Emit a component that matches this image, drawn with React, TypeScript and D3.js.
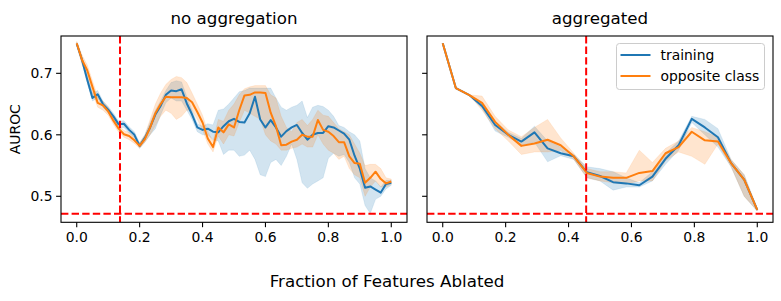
import React from 'react';
import * as d3 from 'd3';

// sample positions (fraction of features ablated)
const fracNoAgg = d3.range(61).map(i => i / 60);
const fracAgg = d3.range(25).map(i => i / 24);

// no aggregation: training
const noAggTrain = [0.748, 0.722, 0.690, 0.660, 0.666, 0.650, 0.641, 0.630, 0.617, 0.618,
	0.608, 0.600, 0.582, 0.595, 0.612, 0.633, 0.647, 0.665, 0.672, 0.671,
	0.674, 0.651, 0.633, 0.612, 0.608, 0.610, 0.605, 0.604, 0.614, 0.622,
	0.626, 0.621, 0.620, 0.635, 0.662, 0.625, 0.612, 0.624, 0.612, 0.597,
	0.606, 0.612, 0.616, 0.603, 0.592, 0.600, 0.603, 0.603, 0.614, 0.612,
	0.607, 0.602, 0.592, 0.566, 0.545, 0.514, 0.516, 0.511, 0.506, 0.520, 0.522];
const noAggTrainLo = [0.745, 0.716, 0.684, 0.655, 0.660, 0.645, 0.636, 0.625, 0.612, 0.612,
	0.603, 0.595, 0.578, 0.588, 0.600, 0.610, 0.632, 0.652, 0.660, 0.655,
	0.655, 0.640, 0.625, 0.605, 0.600, 0.600, 0.592, 0.590, 0.568, 0.575,
	0.575, 0.565, 0.567, 0.575, 0.560, 0.535, 0.532, 0.555, 0.560, 0.550,
	0.565, 0.585, 0.560, 0.522, 0.513, 0.520, 0.525, 0.530, 0.562, 0.570,
	0.565, 0.568, 0.555, 0.530, 0.520, 0.485, 0.472, 0.495, 0.500, 0.512, 0.518];
const noAggTrainHi = [0.751, 0.728, 0.697, 0.668, 0.672, 0.655, 0.646, 0.635, 0.622, 0.623,
	0.613, 0.605, 0.587, 0.600, 0.620, 0.640, 0.655, 0.672, 0.685, 0.688,
	0.686, 0.662, 0.640, 0.618, 0.614, 0.618, 0.616, 0.640, 0.642, 0.650,
	0.660, 0.670, 0.672, 0.676, 0.676, 0.676, 0.676, 0.676, 0.660, 0.645,
	0.640, 0.645, 0.648, 0.655, 0.628, 0.645, 0.648, 0.646, 0.640, 0.630,
	0.615, 0.612, 0.605, 0.600, 0.590, 0.545, 0.530, 0.525, 0.515, 0.526, 0.526];

// no aggregation: opposite class
const noAggOpp = [0.749, 0.722, 0.705, 0.678, 0.652, 0.648, 0.638, 0.623, 0.610, 0.601,
	0.598, 0.591, 0.582, 0.593, 0.612, 0.635, 0.650, 0.662, 0.661, 0.661,
	0.661, 0.660, 0.653, 0.637, 0.620, 0.594, 0.580, 0.612, 0.604, 0.617,
	0.612, 0.640, 0.664, 0.665, 0.669, 0.669, 0.668, 0.636, 0.614, 0.583,
	0.584, 0.589, 0.592, 0.600, 0.597, 0.597, 0.624, 0.608, 0.605, 0.598,
	0.588, 0.588, 0.565, 0.554, 0.553, 0.522, 0.530, 0.540, 0.528, 0.521, 0.524];
const noAggOppLo = [0.746, 0.715, 0.698, 0.668, 0.645, 0.640, 0.632, 0.617, 0.604, 0.596,
	0.592, 0.586, 0.578, 0.588, 0.600, 0.615, 0.630, 0.640, 0.635, 0.625,
	0.630, 0.640, 0.640, 0.625, 0.608, 0.585, 0.572, 0.598, 0.585, 0.600,
	0.598, 0.620, 0.640, 0.635, 0.630, 0.625, 0.600, 0.590, 0.585, 0.575,
	0.575, 0.578, 0.580, 0.585, 0.580, 0.580, 0.600, 0.585, 0.575, 0.570,
	0.560, 0.565, 0.545, 0.535, 0.530, 0.500, 0.515, 0.525, 0.515, 0.515, 0.520];
const noAggOppHi = [0.752, 0.730, 0.714, 0.688, 0.662, 0.655, 0.645, 0.630, 0.616, 0.607,
	0.604, 0.597, 0.587, 0.600, 0.625, 0.650, 0.668, 0.682, 0.690, 0.695,
	0.693, 0.685, 0.668, 0.650, 0.632, 0.605, 0.590, 0.625, 0.622, 0.640,
	0.650, 0.665, 0.675, 0.678, 0.680, 0.680, 0.680, 0.665, 0.660, 0.630,
	0.612, 0.605, 0.620, 0.625, 0.615, 0.625, 0.640, 0.632, 0.630, 0.620,
	0.610, 0.605, 0.600, 0.585, 0.570, 0.550, 0.552, 0.552, 0.545, 0.530, 0.528];

// aggregated: training
const aggTrain = [0.749, 0.676, 0.665, 0.647, 0.616, 0.600, 0.589, 0.604, 0.578, 0.570,
	0.565, 0.539, 0.533, 0.523, 0.521, 0.518, 0.532, 0.561, 0.583, 0.626,
	0.612, 0.596, 0.554, 0.527, 0.478];
const aggTrainLo = [0.749, 0.676, 0.665, 0.643, 0.606, 0.596, 0.583, 0.588, 0.556, 0.566,
	0.560, 0.530, 0.525, 0.510, 0.515, 0.515, 0.525, 0.552, 0.575, 0.620,
	0.600, 0.580, 0.548, 0.500, 0.476];
const aggTrainHi = [0.749, 0.676, 0.665, 0.651, 0.622, 0.604, 0.594, 0.614, 0.590, 0.580,
	0.568, 0.548, 0.545, 0.540, 0.530, 0.522, 0.540, 0.570, 0.590, 0.630,
	0.625, 0.610, 0.560, 0.535, 0.480];

// aggregated: opposite class
const aggOpp = [0.749, 0.676, 0.665, 0.652, 0.621, 0.600, 0.582, 0.586, 0.592, 0.583,
	0.565, 0.538, 0.532, 0.530, 0.530, 0.538, 0.541, 0.570, 0.580, 0.605,
	0.591, 0.589, 0.554, 0.527, 0.478];
const aggOppLo = [0.749, 0.676, 0.665, 0.640, 0.610, 0.590, 0.568, 0.572, 0.572, 0.575,
	0.560, 0.530, 0.525, 0.522, 0.520, 0.525, 0.525, 0.558, 0.572, 0.565,
	0.552, 0.585, 0.548, 0.500, 0.476];
const aggOppHi = [0.749, 0.676, 0.665, 0.663, 0.630, 0.608, 0.597, 0.612, 0.625, 0.595,
	0.570, 0.545, 0.540, 0.540, 0.538, 0.575, 0.555, 0.578, 0.590, 0.612,
	0.605, 0.596, 0.560, 0.535, 0.480];

const xTicks = [0, 0.2, 0.4, 0.6, 0.8, 1.0];
const yTicks = [0.5, 0.6, 0.7];
const baseline = 0.4717;
const cutoffs = [0.1376, 0.456];
const titles = ['no aggregation', 'aggregated'];
const seriesNames = ['training', 'opposite class'];
const colors = ['#1f77b4', '#ff7f0e'];

const FONT = 'DejaVu Sans, sans-serif';
const W = 781;
const H = 301;
const top = 36;
const bottom = 222.3;
const panelW = 346;
const panelLefts = [61, 427];

type Series = { x: number[]; mean: number[]; lo: number[]; hi: number[] };

const panelData: Series[][] = [
	[
		{ x: fracNoAgg, mean: noAggTrain, lo: noAggTrainLo, hi: noAggTrainHi },
		{ x: fracNoAgg, mean: noAggOpp, lo: noAggOppLo, hi: noAggOppHi },
	],
	[
		{ x: fracAgg, mean: aggTrain, lo: aggTrainLo, hi: aggTrainHi },
		{ x: fracAgg, mean: aggOpp, lo: aggOppLo, hi: aggOppHi },
	],
];

const y = d3.scaleLinear().domain([0.4577, 0.7607]).range([bottom, top]);

const Panel: React.FC<{ idx: number }> = ({ idx }) => {
	const left = panelLefts[idx];
	const x = d3.scaleLinear().domain([-0.05, 1.05]).range([left, left + panelW]);
	const series = panelData[idx];
	const clipId = `clip${idx}`;

	const area = (s: Series) => d3.area<number>()
		.x((_, i) => x(s.x[i]))
		.y0((_, i) => y(s.lo[i]))
		.y1((_, i) => y(s.hi[i]))(s.mean);
	const line = (s: Series) => d3.line<number>()
		.x((_, i) => x(s.x[i]))
		.y(d => y(d))(s.mean);

	return (
		<g>
			<defs>
				<clipPath id={clipId}>
					<rect x={left} y={top} width={panelW} height={bottom - top} />
				</clipPath>
			</defs>
			<g clipPath={`url(#${clipId})`}>
				{series.map((s, i) => (
					<path key={'a' + i} d={area(s) || ''} fill={colors[i]} fillOpacity={0.2} stroke={colors[i]} strokeOpacity={0.2} strokeWidth={0.5} />
				))}
				{series.map((s, i) => (
					<path key={'l' + i} d={line(s) || ''} fill="none" stroke={colors[i]} strokeWidth={2} strokeLinejoin="round" />
				))}
				<line x1={x(cutoffs[idx])} x2={x(cutoffs[idx])} y1={top} y2={bottom} stroke="#ff0000" strokeWidth={2} strokeDasharray="7.4,3.2" />
				<line x1={left} x2={left + panelW} y1={y(baseline)} y2={y(baseline)} stroke="#ff0000" strokeWidth={2} strokeDasharray="7.4,3.2" />
			</g>
			<rect x={left} y={top} width={panelW} height={bottom - top} fill="none" stroke="#000" strokeWidth={1.1} />
			{xTicks.map(t => (
				<g key={t}>
					<line x1={x(t)} x2={x(t)} y1={bottom} y2={bottom + 4.9} stroke="#000" strokeWidth={1.1} />
					<text x={x(t)} y={bottom + 20} textAnchor="middle" fontSize={13.9} fontFamily={FONT} fill="#000">{t.toFixed(1)}</text>
				</g>
			))}
			{yTicks.map(t => (
				<g key={t}>
					<line x1={left - 4.9} x2={left} y1={y(t)} y2={y(t)} stroke="#000" strokeWidth={1.1} />
					{idx === 0 && (
						<text x={left - 8.5} y={y(t)} dy="0.36em" textAnchor="end" fontSize={13.9} fontFamily={FONT} fill="#000">{t.toFixed(1)}</text>
					)}
				</g>
			))}
			<text x={left + panelW / 2} y={24} textAnchor="middle" fontSize={16.7} fontFamily={FONT} fill="#000">{titles[idx]}</text>
		</g>
	);
};

const Legend: React.FC = () => {
	const lx = 616.5;
	const ly = 43.5;
	return (
		<g>
			<rect x={lx} y={ly} width={148} height={46} rx={3} fill="#fff" fillOpacity={0.8} stroke="#cccccc" strokeWidth={1} />
			{seriesNames.map((n, i) => (
				<g key={n}>
					<line x1={lx + 4} x2={lx + 34} y1={ly + 11.5 + i * 21} y2={ly + 11.5 + i * 21} stroke={colors[i]} strokeWidth={2} />
					<text x={lx + 44} y={ly + 11.5 + i * 21} dy="0.36em" fontSize={13.9} fontFamily={FONT} fill="#000">{n}</text>
				</g>
			))}
		</g>
	);
};

export default function App() {
	return (
		<svg width={W} height={H} style={{ position: 'absolute', left: 0, top: 0, background: '#fff' }}>
			<rect width={W} height={H} fill="#fff" />
			<Panel idx={0} />
			<Panel idx={1} />
			<Legend />
			<text transform={`translate(20, ${(top + bottom) / 2}) rotate(-90)`} textAnchor="middle" fontSize={13.9} fontFamily={FONT} fill="#000">AUROC</text>
			<text x={387} y={287} textAnchor="middle" fontSize={16.7} fontFamily={FONT} fill="#000">Fraction of Features Ablated</text>
		</svg>
	);
}
